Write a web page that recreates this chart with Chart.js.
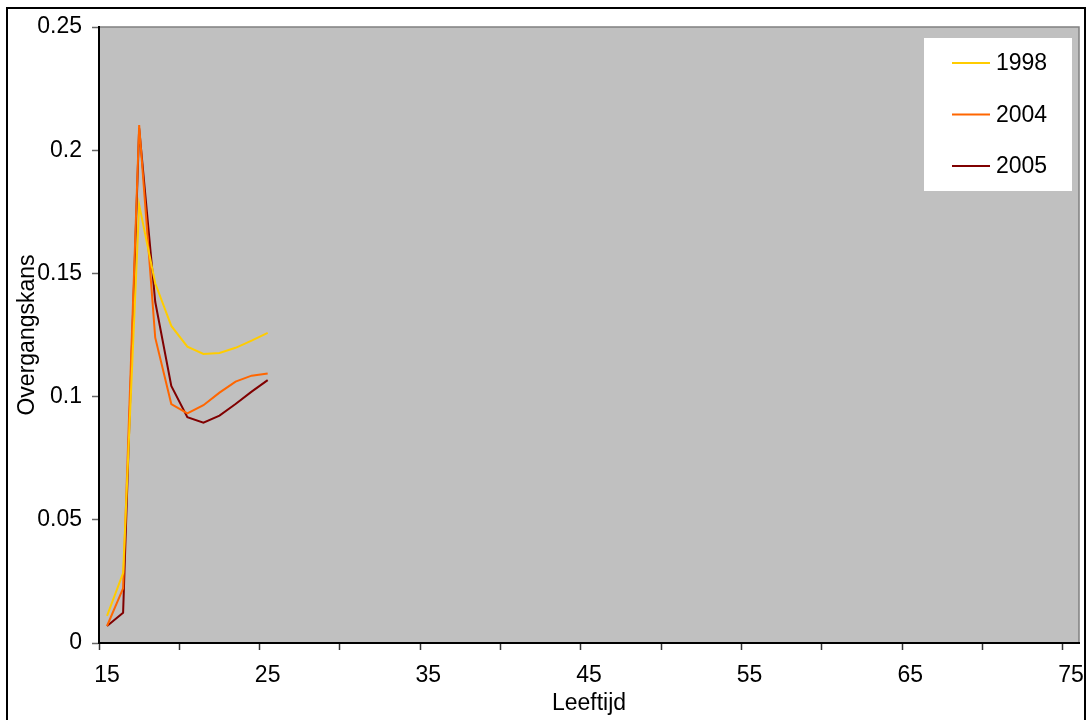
<!DOCTYPE html>
<html>
<head>
<meta charset="utf-8">
<script src="https://cdn.jsdelivr.net/npm/chart.js@4/dist/chart.umd.min.js"></script>
<style>
  body { margin: 0; background: #fff; }
  #wrap { position: relative; width: 1088px; height: 720px; }
  #frame {
    position: absolute; left: 6px; top: 7px; width: 1080px; height: 720px;
    box-sizing: border-box; border: 2px solid #000; pointer-events: none;
  }
</style>
</head>
<body>
<div id="wrap">
  <canvas id="kansChart" width="1088" height="720"></canvas>
  <div id="frame"></div>
</div>
<script>
// Leeftijd (jaren) en overgangskansen per jaargang
var leeftijd = [15, 16, 17, 18, 19, 20, 21, 22, 23, 24, 25];
var kans1998 = [0.0110, 0.0284, 0.1778, 0.1460, 0.1287, 0.1203, 0.1173, 0.1177, 0.1198, 0.1227, 0.1259];
var kans2004 = [0.0069, 0.0222, 0.2102, 0.1239, 0.0970, 0.0932, 0.0965, 0.1016, 0.1061, 0.1085, 0.1094];
var kans2005 = [0.0069, 0.0123, 0.2089, 0.1385, 0.1043, 0.0916, 0.0894, 0.0923, 0.0970, 0.1020, 0.1067];

var reeksen = ["1998", "2004", "2005"];
var kleuren = ["#FFCC00", "#FF6600", "#800000"];

// tick labels
var xLabels = [15, 25, 35, 45, 55, 65, 75];
var yTicks = [0, 0.05, 0.1, 0.15, 0.2, 0.25];

function punten(waarden) {
  return waarden.map(function (v, i) { return { x: leeftijd[i], y: v }; });
}

var FONT = { family: "'Liberation Sans', Arial, sans-serif", size: 23 };

// grey plot area with its thin frame on top/right
var plotBackground = {
  id: "plotBackground",
  beforeDraw: function (chart) {
    var a = chart.chartArea, ctx = chart.ctx;
    ctx.save();
    ctx.fillStyle = "#C0C0C0";
    ctx.fillRect(a.left, a.top, a.right - a.left, a.bottom - a.top);
    ctx.strokeStyle = "#808080";
    ctx.lineWidth = 1.5;
    ctx.beginPath();
    ctx.moveTo(a.left, a.top);
    ctx.lineTo(a.right, a.top);
    ctx.lineTo(a.right, a.bottom);
    ctx.stroke();
    ctx.restore();
  }
};

// white legend box inside the top right corner
var boxLegend = {
  id: "boxLegend",
  afterDraw: function (chart) {
    var a = chart.chartArea, ctx = chart.ctx;
    var w = 148, h = 153;
    var x0 = a.right - 7 - w, y0 = a.top + 11;
    ctx.save();
    ctx.fillStyle = "#FFFFFF";
    ctx.fillRect(x0, y0, w, h);
    ctx.font = FONT.size + "px " + FONT.family;
    ctx.textBaseline = "middle";
    chart.data.datasets.forEach(function (ds, i) {
      var y = y0 + 25 + i * 51.5;
      ctx.strokeStyle = ds.borderColor;
      ctx.lineWidth = 2;
      ctx.beginPath();
      ctx.moveTo(x0 + 28, y);
      ctx.lineTo(x0 + 66, y);
      ctx.stroke();
      ctx.fillStyle = "#000";
      ctx.fillText(ds.label, x0 + 72, y + 1);
    });
    ctx.restore();
  }
};

var ctx = document.getElementById("kansChart").getContext("2d");

var kansChart = new Chart(ctx, {
  type: "line",
  data: {
    datasets: [kans1998, kans2004, kans2005].map(function (reeks, i) {
      return {
        label: reeksen[i],
        data: punten(reeks),
        borderColor: kleuren[i],
        backgroundColor: kleuren[i],
        borderWidth: 2,
        pointRadius: 0,
        tension: 0,
        fill: false
      };
    })
  },
  options: {
    responsive: false,
    animation: false,
    layout: { padding: { left: 0, top: 27, right: 9, bottom: 0 } },
    plugins: {
      legend: { display: false },
      tooltip: { enabled: false }
    },
    scales: {
      x: {
        type: "linear",
        min: 14.5,
        max: 75.5,
        afterFit: function (scale) { scale.height = 77; },
        afterBuildTicks: function (scale) {
          var t = [];
          for (var v = 14.5; v < 75; v += 5) t.push({ value: v });
          scale.ticks = t;
        },
        grid: {
          drawOnChartArea: false,
          drawTicks: true,
          tickLength: 7,
          tickColor: "#333",
          tickWidth: 1.5
        },
        border: { display: true, color: "#000", width: 2 },
        ticks: {
          autoSkip: false,
          maxRotation: 0,
          labelOffset: 8,
          padding: 12,
          color: "#000",
          font: FONT,
          callback: function (v) {
            var lab = v + 0.5;
            return xLabels.indexOf(lab) >= 0 ? String(lab) : "";
          }
        },
        title: {
          display: true,
          text: "Leeftijd",
          color: "#000",
          font: FONT,
          padding: 3
        }
      },
      y: {
        min: 0,
        max: 0.25,
        afterFit: function (scale) { scale.width = 99; },
        afterBuildTicks: function (scale) {
          scale.ticks = yTicks.map(function (v) { return { value: v }; });
        },
        grid: {
          drawOnChartArea: false,
          drawTicks: true,
          tickLength: 7,
          tickColor: "#666",
          tickWidth: 1.5
        },
        border: { display: true, color: "#000", width: 2 },
        ticks: {
          padding: 10,
          color: "#000",
          font: FONT,
          callback: function (v) { return String(v); }
        },
        title: {
          display: true,
          text: "Overgangskans",
          color: "#000",
          font: FONT,
          padding: 14
        }
      }
    }
  },
  plugins: [plotBackground, boxLegend]
});
</script>
</body>
</html>
